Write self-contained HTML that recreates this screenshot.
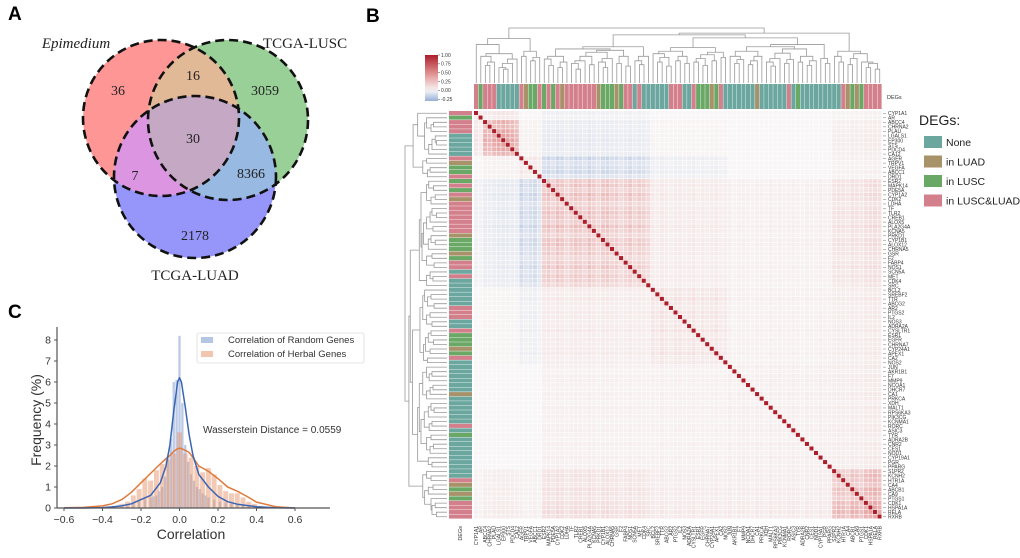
<!DOCTYPE html>
<html><head><meta charset="utf-8"><style>
html,body{margin:0;padding:0;background:#fff;}
svg{display:block;font-family:"Liberation Sans",sans-serif;}
</style></head><body>
<svg id="fig" width="1020" height="558" viewBox="0 0 1020 558">
<defs>
<clipPath id="cR"><circle cx="161" cy="118" r="78"/></clipPath>
<clipPath id="cG"><circle cx="228" cy="120" r="80"/></clipPath>
</defs>
<g>
<text x="8" y="20" font-size="19" font-weight="bold">A</text>
<circle cx="161" cy="118" r="78" fill="rgb(255,150,150)"/>
<circle cx="228" cy="120" r="80" fill="rgb(152,208,152)"/>
<circle cx="195" cy="177" r="81" fill="rgb(150,150,250)"/>
<circle cx="228" cy="120" r="80" fill="rgb(225,185,150)" clip-path="url(#cR)"/>
<circle cx="195" cy="177" r="81" fill="rgb(220,150,225)" clip-path="url(#cR)"/>
<circle cx="195" cy="177" r="81" fill="rgb(152,185,225)" clip-path="url(#cG)"/>
<g clip-path="url(#cR)"><circle cx="195" cy="177" r="81" fill="rgb(196,168,196)" clip-path="url(#cG)"/></g>
<g fill="none" stroke="#111" stroke-width="2.6" stroke-dasharray="9,5">
<circle cx="161" cy="118" r="78"/><circle cx="228" cy="120" r="80"/><circle cx="195" cy="177" r="81"/>
</g>
<g font-family="'Liberation Serif',serif" font-size="14" text-anchor="middle" fill="#222">
<text x="118" y="95">36</text><text x="193" y="80">16</text><text x="265" y="95">3059</text>
<text x="193" y="143">30</text><text x="135" y="180">7</text><text x="251" y="178">8366</text>
<text x="195" y="240">2178</text>
<text x="76" y="48" font-style="italic" font-size="15">Epimedium</text>
<text x="305" y="48" font-size="15">TCGA-LUSC</text>
<text x="195" y="280" font-size="15">TCGA-LUAD</text>
</g>
</g>
<text x="366" y="22" font-size="19" font-weight="bold">B</text>
<text x="8" y="318" font-size="19" font-weight="bold">C</text>
<g id="heat"></g>
<g id="hist"></g>
</svg>
<script>
// ---------- Panel B data ----------
const genes = ["CYP1A1","AR","ABCC4","CHRNA2","PLAU","LGALS1","EP300","STS","PDCD4","CA12","AGER","TRPV1","VEGFA","ABCC1","DRD1","ESR2","MAPK14","PDE5A","CYP1A2","CDK2","LDHA","TF","TLR2","CREB1","ALOX5","PLA2G4A","KCNA5","PRKD1","CYP1B1","ALOX12","CHRNA5","GSR","F2","FABP4","NOS1","SCN5A","MET","CDK4","SRC","BCL2","SREBF2","TTR","ABCG2","AR2","PTGS2","IL2","NOS3","ADRA2A","CYSLTR1","ESR1","EGFR","CHRNA7","CYP24A1","APEX1","CA2","NOS2","JUN","AKR1B1","F7","MMP9","NCOA1","DHCR7","CA1","PRKCA","XDH","MALT1","RPS6KA3","PIK3CG","KCNMA1","RORC","ASIC3","TYR","ADRA2B","CNR2","CES1","NOD1","CYP19A1","PGR","PPARG","S1PR2","KCNH2","HTR1A","CA4","ABCB1","CA9","PTGS1","CDK1","HSPA1A","RELA","RXRB"];
const degCats = "PGPPPTTTTTPBGGPGPGPBPPPPPPPBGGGBGPPTPTTTTTTPPPTTPGGGBGPTTTTTTTBTTTTTTPTGTTTTTTTTTPBGBGPPPPP".split("");
const groups = [0,0,1,1,1,1,1,1,1,1,2,2,2,2,2,3,3,3,3,3,3,3,3,3,3,3,3,3,3,3,3,3,3,3,3,3,3,3,3,4,4,4,4,4,4,4,4,4,4,4,4,4,4,4,4,4,5,5,5,5,5,5,5,5,5,5,5,5,5,5,5,5,5,5,5,5,5,5,5,6,6,6,6,6,6,6,6,6,6,6];
const groupCorr = [
 [0.10,0.08,0.00,-0.03,0.00,0.00,0.02],
 [0.08,0.26,0.02,-0.04,0.01,0.00,0.03],
 [0.00,0.02,0.06,-0.10,-0.03,0.00,0.02],
 [-0.03,-0.04,-0.10,0.18,0.05,0.03,0.07],
 [0.00,0.01,-0.03,0.05,0.08,0.03,0.04],
 [0.00,0.00,0.00,0.03,0.03,0.04,0.04],
 [0.02,0.03,0.02,0.07,0.04,0.04,0.16]];
const weights = [0.8,0.6,1.0,0.9,1.1,1.2,1.3,1.2,1.1,0.9,1.2,0.8,1.0,1.1,0.7,1.0,1.2,0.9,1.3,1.1,0.8,1.0,1.2,1.1,0.9,1.3,1.0,0.8,1.1,1.2,0.9,1.0,0.7,0.9,1.1,0.8,1.0,0.9,0.7,1.0,0.8,1.2,0.9,0.7,1.1,1.0,0.8,0.9,1.2,0.7,1.0,0.8,0.9,1.1,0.7,0.8,1.0,0.6,0.9,1.1,0.8,0.7,1.0,0.9,0.6,1.2,0.8,1.0,0.7,0.9,1.1,0.8,0.6,1.0,0.9,0.7,1.2,0.8,0.9,1.0,1.2,1.1,0.9,1.3,1.2,1.0,1.4,1.5,1.6,1.4];
const mergeHeights = [0.55,0.3,0.15,0.2,0.35,0.12,0.1,0.18,0.25,0.7,0.3,0.4,0.22,0.28,1.0,0.25,0.15,0.3,0.12,0.2,0.45,0.18,0.1,0.22,0.3,0.16,0.38,0.2,0.12,0.26,0.42,0.18,0.3,0.14,0.5,0.22,0.16,0.3,0.8,0.35,0.2,0.28,0.14,0.4,0.22,0.3,0.18,0.48,0.2,0.26,0.15,0.33,0.22,0.38,0.28,0.72,0.3,0.18,0.24,0.4,0.16,0.22,0.3,0.5,0.2,0.14,0.26,0.36,0.18,0.24,0.45,0.2,0.3,0.15,0.22,0.55,0.26,0.18,0.85,0.3,0.2,0.4,0.16,0.26,0.35,0.2,0.12,0.18,0.1];
const cbTicks = [1.00,0.75,0.50,0.25,0.00,-0.25];
const catColors = {T:"#6ba79f",B:"#a8926a",G:"#6aa866",P:"#d3808c"};
const legendCats = ["T","B","G","P"];
const legendNames = ["None","in LUAD","in LUSC","in LUSC&LUAD"];

// ---------- Panel C data ----------
const binWidthH = 0.03, binWidthR = 0.015;
const herbalCenters = [-0.33,-0.30,-0.27,-0.24,-0.21,-0.18,-0.15,-0.12,-0.09,-0.06,-0.03,0.0,0.03,0.06,0.09,0.12,0.15,0.18,0.21,0.24,0.27,0.30,0.33,0.36,0.39,0.42];
const herbalFreq = [0.1,0.2,0.3,0.6,0.9,1.4,1.3,1.8,2.1,2.3,2.6,3.6,2.6,2.4,2.0,1.7,1.9,1.6,1.1,0.8,0.7,0.7,0.5,0.3,0.2,0.1];
const randomCenters = [-0.27,-0.24,-0.21,-0.18,-0.15,-0.135,-0.12,-0.105,-0.09,-0.075,-0.06,-0.045,-0.03,-0.015,0.0,0.015,0.03,0.045,0.06,0.075,0.09,0.105,0.12,0.135,0.15,0.18,0.21,0.24,0.27,0.30,0.33,0.36];
const randomFreq = [0.1,0.2,0.3,0.4,0.5,0.55,0.6,0.8,1.0,1.5,2.5,3.3,6.0,6.1,8.2,5.0,3.0,2.2,1.6,1.3,1.0,0.9,0.7,0.6,0.5,0.4,0.3,0.25,0.2,0.15,0.1,0.1];
const kdeX = [-0.6,-0.5,-0.4,-0.35,-0.3,-0.25,-0.2,-0.15,-0.1,-0.07,-0.05,-0.03,-0.01,0.0,0.01,0.03,0.05,0.07,0.1,0.15,0.2,0.25,0.3,0.35,0.4,0.5,0.6];
const kdeRandom = [0,0,0.02,0.05,0.1,0.2,0.4,0.6,1.2,2.0,3.0,4.6,6.0,6.2,6.0,4.8,3.5,2.5,1.6,1.0,0.55,0.3,0.18,0.12,0.06,0.01,0];
const kdeHerbal = [0.01,0.03,0.1,0.2,0.4,0.75,1.2,1.65,2.1,2.35,2.5,2.7,2.82,2.85,2.83,2.75,2.65,2.4,2.0,1.75,1.4,1.0,0.8,0.55,0.28,0.06,0];
const xTicks = [-0.6,-0.4,-0.2,0.0,0.2,0.4,0.6];
const yTicks = [0,1,2,3,4,5,6,7,8];

const NS="http://www.w3.org/2000/svg";
function mk(tag,attrs,parent){const e=document.createElementNS(NS,tag);for(const k in attrs)e.setAttribute(k,attrs[k]);parent.appendChild(e);return e;}

// ---------- Draw heatmap ----------
(function(){
const g=document.getElementById('heat');
const N=genes.length, X0=474, Y0=111, S=408, c=S/N;
function lerp(a,b,t){return a.map((v,i)=>Math.round(v+(b[i]-v)*t));}
function color(v){
  let rgb;
  if(v>=0){const t=Math.min(v,1);
    rgb = t<0.4? lerp([248,246,246],[230,160,160],t/0.4) : lerp([230,160,160],[172,30,42],(t-0.4)/0.6);
  } else {const t=Math.min(-v/0.3,1); rgb=lerp([248,246,246],[150,175,215],t);}
  return `rgb(${rgb.join(',')})`;
}
for(let i=0;i<N;i++){for(let j=0;j<N;j++){
  const v = i===j?1:groupCorr[groups[i]][groups[j]]*weights[i]*weights[j];
  const r=mk('rect',{x:(X0+j*c).toFixed(2),y:(Y0+i*c).toFixed(2),width:(c-0.5).toFixed(2),height:(c-0.5).toFixed(2),fill:color(v)},g);
  
  
}}
for(let k=0;k<N;k++){
  const col=catColors[degCats[k]]||catColors.T;
  const a=mk('rect',{x:(X0+k*c).toFixed(2),y:84,width:(c-0.4).toFixed(2),height:25,fill:col},g);
  
  
  const b=mk('rect',{x:449,y:(Y0+k*c).toFixed(2),width:23,height:(c-0.4).toFixed(2),fill:col},g);
  
  
  const tl=mk('text',{x:888,y:(Y0+k*c+c/2+1.8).toFixed(2),'font-size':5,fill:'#333'},g);
  tl.textContent=genes[k];
  
  
  mk('line',{x1:883,x2:886,y1:(Y0+k*c+c/2).toFixed(2),y2:(Y0+k*c+c/2).toFixed(2),stroke:'#555','stroke-width':0.4},g);
  const cx=X0+k*c+c/2+1.8;
  const cl=mk('text',{x:cx.toFixed(2),y:526,'font-size':5,fill:'#333','text-anchor':'end',transform:`rotate(-90 ${cx.toFixed(2)} 526)`},g);
  cl.textContent=genes[k];
  
  
}
let t=mk('text',{x:887,y:99,'font-size':5.5,fill:'#333'},g);t.textContent='DEGs';


t=mk('text',{x:462,y:526,'font-size':5.5,fill:'#333','text-anchor':'end',transform:'rotate(-90 462 526)'},g);t.textContent='DEGs';


const maxH=Math.max(...mergeHeights);
const hs=v=>Math.pow(v/maxH,0.6);
function build(lo,hi){
  if(lo===hi)return {x:lo+0.5,h:0};
  let k=lo;for(let i=lo;i<hi;i++)if(mergeHeights[i]>mergeHeights[k])k=i;
  const L=build(lo,k),R=build(k+1,hi),h=mergeHeights[k];
  const ty=v=>83-hs(v)*55, px=v=>X0+v*c;
  mk('path',{d:`M${px(L.x)},${ty(L.h)}V${ty(h)}H${px(R.x)}V${ty(R.h)}`,fill:'none',stroke:'#999','stroke-width':0.8},g);
  const lx=v=>447-hs(v)*42, py=v=>Y0+v*c;
  mk('path',{d:`M${lx(L.h)},${py(L.x)}H${lx(h)}V${py(R.x)}H${lx(R.h)}`,fill:'none',stroke:'#999','stroke-width':0.8},g);
  return {x:(L.x+R.x)/2,h};
}
build(0,N-1);
const cbY0=55,cbY1=101;
const grad=mk('linearGradient',{id:'cbg',x1:0,y1:0,x2:0,y2:1},document.querySelector('defs'));
for(let s=0;s<=10;s++){const v=1-s/10*1.3;mk('stop',{offset:s/10,'stop-color':color(v)},grad);}
const cb=mk('rect',{x:425,y:cbY0,width:13,height:cbY1-cbY0,fill:'url(#cbg)'},g);


cbTicks.forEach(v=>{const y=cbY0+(1-v)/1.3*(cbY1-cbY0);
  mk('line',{x1:438,x2:440,y1:y,y2:y,stroke:'#444','stroke-width':0.5},g);
  const tt=mk('text',{x:441,y:y+1.8,'font-size':5,fill:'#333'},g);tt.textContent=v.toFixed(2);
  
  });
t=mk('text',{x:919,y:125,'font-size':14,fill:'#222'},g);t.textContent='DEGs:';


legendCats.forEach((k,i)=>{const y=136+i*19.5;
  const r=mk('rect',{x:924,y:y,width:18,height:12,fill:catColors[k]},g);
  
  
  const tx=mk('text',{x:946,y:y+10,'font-size':10.5,fill:'#222'},g);tx.textContent=legendNames[i];
  
  });
})();

// ---------- Draw histogram ----------
(function(){
const g=document.getElementById('hist');
const sx=v=>179.5+v*192.5, sy=v=>508-v*21;
randomCenters.forEach((c,i)=>{const r=mk('rect',{x:sx(c-binWidthR/2)+0.3,y:sy(randomFreq[i]),width:binWidthR*192.5-0.6,height:randomFreq[i]*21,fill:'rgba(120,150,205,0.5)'},g);
  
  });
herbalCenters.forEach((c,i)=>{const r=mk('rect',{x:sx(c-binWidthH/2)+0.4,y:sy(herbalFreq[i]),width:binWidthH*192.5-0.8,height:herbalFreq[i]*21,fill:'rgba(232,150,110,0.5)'},g);
  
  });
function line(ys,col,name){const p=mk('polyline',{points:kdeX.map((x,i)=>sx(x).toFixed(1)+','+sy(ys[i]).toFixed(1)).join(' '),fill:'none',stroke:col,'stroke-width':1.5,'stroke-linejoin':'round'},g);
  
  }
line(kdeHerbal,'#e07a3c','kde-herbal');
line(kdeRandom,'#3a64b4','kde-random');
mk('line',{x1:57,x2:57,y1:327,y2:508,stroke:'#555','stroke-width':1.2},g);
mk('line',{x1:57,x2:330,y1:508,y2:508,stroke:'#555','stroke-width':1.2},g);
xTicks.forEach(v=>{mk('line',{x1:sx(v),x2:sx(v),y1:508,y2:511,stroke:'#555'},g);
  const t=mk('text',{x:sx(v),y:523,'font-size':10.5,'text-anchor':'middle',fill:'#333'},g);t.textContent=v.toFixed(1).replace('-','\u2212');
  
  });
yTicks.forEach(v=>{mk('line',{x1:54,x2:57,y1:sy(v),y2:sy(v),stroke:'#555'},g);
  const t=mk('text',{x:51,y:sy(v)+3.6,'font-size':10.5,'text-anchor':'end',fill:'#333'},g);t.textContent=v;
  
  });
let t=mk('text',{x:191,y:539,'font-size':14,'text-anchor':'middle',fill:'#333'},g);t.textContent='Correlation';


t=mk('text',{x:0,y:0,'font-size':14,'text-anchor':'middle',fill:'#333',transform:'translate(41,420) rotate(-90)'},g);t.textContent='Frequency (%)';


const lb=mk('rect',{x:197,y:333,width:167,height:30,rx:2,fill:'#fff',stroke:'#ddd','stroke-width':0.8},g);


mk('rect',{x:201,y:337,width:12,height:6,fill:'rgba(120,150,205,0.55)'},g);
mk('rect',{x:201,y:351,width:12,height:6,fill:'rgba(232,150,110,0.55)'},g);
t=mk('text',{x:228,y:343,'font-size':9.5,fill:'#333'},g);t.textContent='Correlation of Random Genes';


t=mk('text',{x:228,y:357,'font-size':9.5,fill:'#333'},g);t.textContent='Correlation of Herbal Genes';


t=mk('text',{x:203,y:433,'font-size':10,fill:'#333'},g);t.textContent='Wasserstein Distance = 0.0559';


})();
</script>
</body></html>
